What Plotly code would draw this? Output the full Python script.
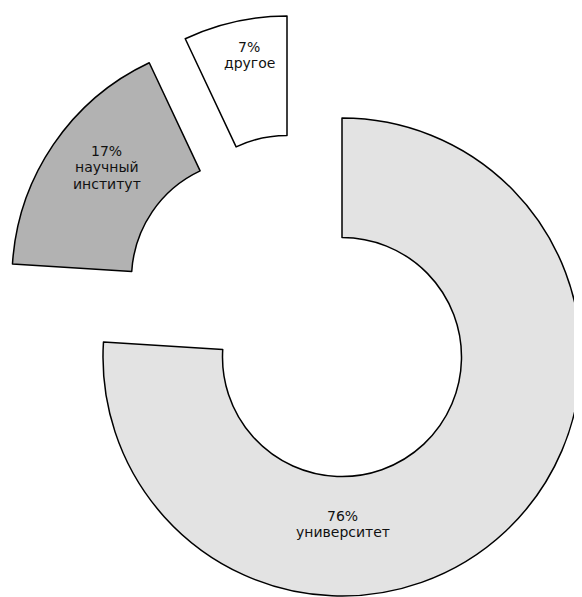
import plotly.graph_objects as go

# ---- data ----
categories = ["университет", "научный институт", "другое"]
values = [76, 17, 7]
label_lines = [["университет"], ["научный", "институт"], ["другое"]]

# ---- style / layout (pixel positions measured in the 582x597 window) ----
PAGE_OFF = 8                       # default page margin around the plot div
W, H = 582 - PAGE_OFF, 597 - PAGE_OFF
fills = ["#e3e3e3", "#b2b2b2", "#ffffff"]
R = 239                            # outer radius in px
base_center = (342, 357)           # centre of the unpulled ring
offsets = [(0, 0), (-91, -78), (-55, -102)]   # shift of each pulled slice
label_x = [342.5, 106.5, 249]
label_y_first = [515.5, 151, 46.5]
line_step = 16.5
FONT = dict(family="DejaVu Sans, Verdana, sans-serif", size=14, color="#111111")


def px_x(x):
    return (x - PAGE_OFF) / W


def px_y(y):
    return 1 - (y - PAGE_OFF) / H


fig = go.Figure()
for i in range(len(values)):
    cx = base_center[0] + offsets[i][0]
    cy = base_center[1] + offsets[i][1]
    colors = ["rgba(0,0,0,0)"] * len(values)
    colors[i] = fills[i]
    lw = [0] * len(values)
    lw[i] = 1.5
    fig.add_trace(go.Pie(
        labels=categories,
        values=values,
        sort=False,
        direction="clockwise",
        rotation=0,
        hole=0.5,
        textinfo="none",
        hoverinfo="label+percent",
        showlegend=False,
        marker=dict(colors=colors, line=dict(color="black", width=lw)),
        domain=dict(x=[px_x(cx - R), px_x(cx + R)],
                    y=[px_y(cy + R), px_y(cy - R)]),
    ))

for i in range(len(values)):
    lines = [f"{values[i]}%"] + label_lines[i]
    for k, line in enumerate(lines):
        fig.add_annotation(
            x=px_x(label_x[i]), y=px_y(label_y_first[i] + k * line_step),
            xref="paper", yref="paper",
            xanchor="center", yanchor="middle",
            text=line, showarrow=False, font=FONT,
        )

fig.update_layout(
    width=W, height=H,
    margin=dict(l=0, r=0, t=0, b=0),
    paper_bgcolor="white",
    plot_bgcolor="white",
)

fig.write_html("out.html")
